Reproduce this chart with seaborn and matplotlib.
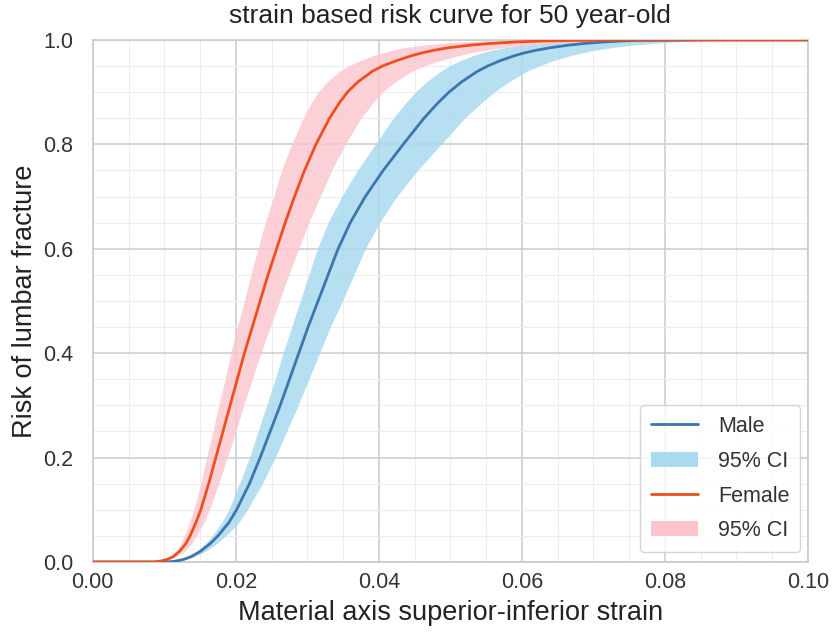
import numpy as np
import pandas as pd
import matplotlib
matplotlib.use("Agg")
import matplotlib.pyplot as plt
import seaborn as sns
from matplotlib.ticker import MultipleLocator
from matplotlib.lines import Line2D
from matplotlib.patches import Patch

# Risk levels (y) and the strain (x) at each level
risk_levels = [0.0, 0.002, 0.005, 0.01, 0.02, 0.035, 0.05, 0.075, 0.1, 0.15,
               0.2, 0.25, 0.3, 0.35, 0.4, 0.45, 0.5, 0.55, 0.6, 0.65,
               0.7, 0.75, 0.8, 0.85, 0.88, 0.9, 0.92, 0.94, 0.95, 0.96,
               0.97, 0.975, 0.98, 0.985, 0.99, 0.993, 0.996, 0.998, 0.999, 1.0]

female_mid = [0.0085, 0.0096, 0.0104, 0.0112, 0.0121, 0.0130, 0.0136, 0.0144, 0.0151, 0.0162,
              0.0172, 0.0182, 0.0192, 0.0202, 0.0212, 0.0223, 0.0234, 0.0245, 0.0257, 0.0269,
              0.0282, 0.0296, 0.0312, 0.0331, 0.0345, 0.0356, 0.0371, 0.0391, 0.0405, 0.0424,
              0.0446, 0.0460, 0.0476, 0.0497, 0.0528, 0.0553, 0.0590, 0.0630, 0.0670, 0.0760]
female_lo = [0.0082, 0.0094, 0.0101, 0.0108, 0.0116, 0.0123, 0.0128, 0.0135, 0.0141, 0.0151,
             0.0159, 0.0168, 0.0176, 0.0185, 0.0193, 0.0202, 0.0212, 0.0221, 0.0231, 0.0241,
             0.0253, 0.0264, 0.0278, 0.0294, 0.0306, 0.0315, 0.0328, 0.0345, 0.0357, 0.0373,
             0.0392, 0.0404, 0.0417, 0.0435, 0.0462, 0.0483, 0.0514, 0.0548, 0.0582, 0.0659]
female_hi = [0.0088, 0.0098, 0.0107, 0.0117, 0.0128, 0.0138, 0.0145, 0.0155, 0.0163, 0.0176,
             0.0188, 0.0200, 0.0211, 0.0223, 0.0235, 0.0248, 0.0261, 0.0274, 0.0288, 0.0302,
             0.0318, 0.0334, 0.0353, 0.0375, 0.0392, 0.0405, 0.0423, 0.0446, 0.0463, 0.0485,
             0.0511, 0.0528, 0.0546, 0.0571, 0.0608, 0.0637, 0.0681, 0.0728, 0.0775, 0.0882]

male_mid = [0.0105, 0.0117, 0.0127, 0.0137, 0.0150, 0.0164, 0.0175, 0.0190, 0.0201, 0.0219,
            0.0234, 0.0248, 0.0262, 0.0275, 0.0288, 0.0301, 0.0315, 0.0329, 0.0343, 0.0360,
            0.0381, 0.0406, 0.0434, 0.0463, 0.0483, 0.0498, 0.0516, 0.0538, 0.0552, 0.0569,
            0.0590, 0.0603, 0.0619, 0.0639, 0.0665, 0.0686, 0.0713, 0.0739, 0.0759, 0.0850]
male_lo = [0.0102, 0.0116, 0.0124, 0.0133, 0.0145, 0.0157, 0.0167, 0.0180, 0.0190, 0.0205,
           0.0219, 0.0231, 0.0243, 0.0255, 0.0266, 0.0278, 0.0290, 0.0302, 0.0314, 0.0329,
           0.0348, 0.0370, 0.0395, 0.0420, 0.0438, 0.0451, 0.0467, 0.0486, 0.0498, 0.0513,
           0.0532, 0.0543, 0.0557, 0.0575, 0.0598, 0.0616, 0.0640, 0.0663, 0.0681, 0.0761]
male_hi = [0.0108, 0.0119, 0.0131, 0.0142, 0.0157, 0.0173, 0.0186, 0.0204, 0.0216, 0.0237,
           0.0255, 0.0271, 0.0287, 0.0302, 0.0317, 0.0332, 0.0349, 0.0365, 0.0381, 0.0401,
           0.0425, 0.0454, 0.0487, 0.0520, 0.0544, 0.0561, 0.0582, 0.0607, 0.0624, 0.0643,
           0.0668, 0.0683, 0.0701, 0.0724, 0.0755, 0.0779, 0.0810, 0.0840, 0.0864, 0.0990]

x_ticks = [0.00, 0.02, 0.04, 0.06, 0.08, 0.10]
y_ticks = [0.0, 0.2, 0.4, 0.6, 0.8, 1.0]

MALE_LINE = "#3b76ad"
MALE_BAND = "#a9daef"
FEMALE_LINE = "#ee4f1d"
FEMALE_BAND = "#fcc5cd"

sns.set_theme(style="whitegrid")
plt.rcParams['font.family'] = ['Liberation Sans', 'DejaVu Sans']

fig = plt.figure(figsize=(8.36, 6.39), dpi=100)
ax = fig.add_axes([0.111, 0.1205, 0.8555, 0.817])

# line tables: flat start at 0 and flat finish at 1
m_x = [0.0] + male_mid + [0.1]
m_y = [0.0] + risk_levels + [1.0]
f_x = [0.0] + female_mid + [0.1]
f_y = [0.0] + risk_levels + [1.0]
df_m = pd.DataFrame({"strain": m_x, "risk": m_y})
df_f = pd.DataFrame({"strain": f_x, "risk": f_y})

ax.fill_betweenx(risk_levels, male_lo, male_hi, color=MALE_BAND, alpha=0.85,
                 linewidth=0, zorder=2)
ax.fill_betweenx(risk_levels, female_lo, female_hi, color=FEMALE_BAND, alpha=0.8,
                 linewidth=0, zorder=2)

sns.lineplot(data=df_m, x="strain", y="risk", ax=ax, color=MALE_LINE, lw=2,
             estimator=None, sort=False, zorder=3)
sns.lineplot(data=df_f, x="strain", y="risk", ax=ax, color=FEMALE_LINE, lw=2,
             estimator=None, sort=False, zorder=4)

ax.set_xlim(0, 0.1)
ax.set_ylim(0, 1.0)
ax.set_xticks(x_ticks)
ax.set_xticklabels([f"{v:.2f}" for v in x_ticks])
ax.set_yticks(y_ticks)
ax.set_yticklabels([f"{v:.1f}" for v in y_ticks])
ax.xaxis.set_minor_locator(MultipleLocator(0.005))
ax.yaxis.set_minor_locator(MultipleLocator(0.05))
ax.grid(which="major", color="#cccccc", lw=1.1)
ax.grid(which="minor", color="#ededed", lw=0.8)
ax.tick_params(which="both", length=0, labelsize=15.5, colors="#333333")
ax.tick_params(axis="x", pad=7)
ax.tick_params(axis="y", pad=14)
for s in ax.spines.values():
    s.set_color("#cccccc")

ax.set_xlabel("Material axis superior-inferior strain", fontsize=19.5, color="#222222", labelpad=5)
ax.set_ylabel("Risk of lumbar fracture", fontsize=19.5, color="#222222", labelpad=4)
ax.set_title("strain based risk curve for 50 year-old", fontsize=19, color="#222222", pad=12)

handles = [Line2D([], [], color=MALE_LINE, lw=2),
           Patch(facecolor=MALE_BAND, edgecolor="none"),
           Line2D([], [], color=FEMALE_LINE, lw=2),
           Patch(facecolor=FEMALE_BAND, edgecolor="none")]
labels = ["Male", "95% CI", "Female", "95% CI"]
leg = ax.legend(handles, labels, loc="lower right", fontsize=15.5, frameon=True,
                borderpad=0.5, labelspacing=0.64, handlelength=2.2, handletextpad=0.9,
                bbox_to_anchor=(0.989, 0.019), borderaxespad=0)
for t in leg.get_texts():
    t.set_color("#333333")

fig.savefig("out.png", dpi=100)
